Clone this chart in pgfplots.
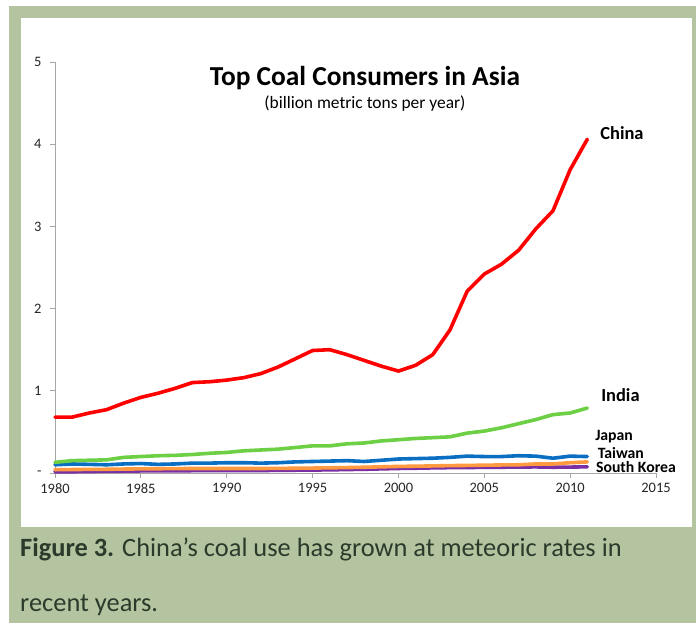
\documentclass[border=0pt]{standalone}
\usepackage{pgfplots}
\pgfplotsset{compat=1.18}
\usepackage{fontspec}
\setmainfont{Carlito}
\definecolor{frame}{HTML}{B5C4A0}
\definecolor{capt}{HTML}{2B3A2B}
\definecolor{cn}{HTML}{FF0000}
\definecolor{ind}{HTML}{6CCF44}
\definecolor{jp}{HTML}{0A6FC2}
\definecolor{tw}{HTML}{FF9A40}
\definecolor{kr}{HTML}{7B2FA5}
\definecolor{axg}{HTML}{A6A6A6}
\begin{document}
\begin{tikzpicture}[x=1bp,y=1bp]
\useasboundingbox (0,0) rectangle (696,623);
\fill[white] (0,0) rectangle (696,623);
\fill[frame] (9,0) rectangle (696,617);
\fill[white] (20.7,96) rectangle (691.7,605);
\begin{axis}[
  at={(55bp,150bp)}, anchor=south west,
  scale only axis, width=601bp, height=411bp,
  xmin=1980, xmax=2015, ymin=0, ymax=5,
  axis x line*=bottom, axis y line*=left,
  xtick={1980,1985,1990,1995,2000,2005,2010,2015},
  xticklabels={1980,1985,1990,1995,2000,2005,2010,2015},
  ytick={0,1,2,3,4,5},
  yticklabels={-,1,2,3,4,5},
  tick align=outside, major tick length=5bp,
  axis line style={axg, line width=0.9bp},
  tick style={axg, line width=0.9bp},
  tick label style={font=\fontsize{14.5}{14.5}\selectfont, text=black!85},
  yticklabel style={xshift=-5bp},
  xticklabel style={yshift=-2bp},
  clip=false,
  every axis plot/.append style={line width=3.6bp, line join=round, line cap=round, no markers},
]
\addplot[kr] coordinates {(1980,0.015)(1981,0.015)(1982,0.018)(1983,0.02)(1984,0.022)(1985,0.025)(1986,0.026)(1987,0.027)(1988,0.028)(1989,0.028)(1990,0.028)(1991,0.029)(1992,0.03)(1993,0.032)(1994,0.034)(1995,0.036)(1996,0.038)(1997,0.042)(1998,0.045)(1999,0.05)(2000,0.055)(2001,0.058)(2002,0.062)(2003,0.065)(2004,0.067)(2005,0.068)(2006,0.07)(2007,0.072)(2008,0.074)(2009,0.07)(2010,0.072)(2011,0.075)};
\addplot[tw] coordinates {(1980,0.04)(1981,0.042)(1982,0.044)(1983,0.045)(1984,0.048)(1985,0.05)(1986,0.052)(1987,0.053)(1988,0.055)(1989,0.055)(1990,0.055)(1991,0.055)(1992,0.055)(1993,0.056)(1994,0.058)(1995,0.06)(1996,0.063)(1997,0.066)(1998,0.07)(1999,0.075)(2000,0.08)(2001,0.083)(2002,0.086)(2003,0.09)(2004,0.092)(2005,0.095)(2006,0.098)(2007,0.10)(2008,0.11)(2009,0.11)(2010,0.125)(2011,0.135)};
\addplot[jp] coordinates {(1980,0.10)(1981,0.11)(1982,0.105)(1983,0.10)(1984,0.11)(1985,0.115)(1986,0.105)(1987,0.11)(1988,0.12)(1989,0.12)(1990,0.125)(1991,0.125)(1992,0.12)(1993,0.125)(1994,0.135)(1995,0.14)(1996,0.145)(1997,0.15)(1998,0.14)(1999,0.155)(2000,0.17)(2001,0.175)(2002,0.18)(2003,0.19)(2004,0.205)(2005,0.20)(2006,0.20)(2007,0.21)(2008,0.205)(2009,0.18)(2010,0.205)(2011,0.20)};
\addplot[ind] coordinates {(1980,0.13)(1981,0.15)(1982,0.155)(1983,0.16)(1984,0.19)(1985,0.20)(1986,0.21)(1987,0.215)(1988,0.225)(1989,0.24)(1990,0.25)(1991,0.27)(1992,0.28)(1993,0.29)(1994,0.31)(1995,0.33)(1996,0.33)(1997,0.355)(1998,0.365)(1999,0.39)(2000,0.405)(2001,0.42)(2002,0.43)(2003,0.44)(2004,0.485)(2005,0.51)(2006,0.55)(2007,0.60)(2008,0.65)(2009,0.71)(2010,0.73)(2011,0.79)};
\addplot[cn] coordinates {(1980,0.68)(1981,0.68)(1982,0.73)(1983,0.77)(1984,0.85)(1985,0.92)(1986,0.97)(1987,1.03)(1988,1.10)(1989,1.11)(1990,1.13)(1991,1.16)(1992,1.21)(1993,1.29)(1994,1.39)(1995,1.49)(1996,1.50)(1997,1.44)(1998,1.37)(1999,1.30)(2000,1.24)(2001,1.31)(2002,1.44)(2003,1.74)(2004,2.21)(2005,2.42)(2006,2.54)(2007,2.71)(2008,2.97)(2009,3.19)(2010,3.69)(2011,4.06)};
\node[anchor=west, inner sep=0pt, font=\bfseries\fontsize{18.5}{18.5}\selectfont] at (axis cs:2011.75,4.14) {China};
\node[anchor=west, inner sep=0pt, font=\bfseries\fontsize{18.5}{18.5}\selectfont] at (axis cs:2011.8,0.95) {India};
\node[anchor=west, inner sep=0pt, font=\bfseries\fontsize{15.8}{15.8}\selectfont] at (axis cs:2011.45,0.44) {Japan};
\node[anchor=west, inner sep=0pt, font=\bfseries\fontsize{15.8}{15.8}\selectfont] at (axis cs:2011.6,0.245) {Taiwan};
\node[anchor=west, inner sep=0pt, font=\bfseries\fontsize{15.8}{15.8}\selectfont] at (axis cs:2011.5,0.07) {South Korea};
\node[inner sep=0pt, font=\bfseries\fontsize{27.5}{27.5}\selectfont] at (axis cs:1998.05,4.81) {Top Coal Consumers in Asia};
\node[inner sep=0pt, font=\fontsize{17.5}{17.5}\selectfont] at (axis cs:1998.05,4.49) {(billion metric tons per year)};
\end{axis}
\node[anchor=base west, inner sep=0pt, text=capt, font=\fontsize{26.5}{26.5}\selectfont] at (20,66) {\textbf{Figure 3.} China’s coal use has grown at meteoric rates in};
\node[anchor=base west, inner sep=0pt, text=capt, font=\fontsize{26.5}{26.5}\selectfont] at (20,11) {recent years.};
\end{tikzpicture}
\end{document}
